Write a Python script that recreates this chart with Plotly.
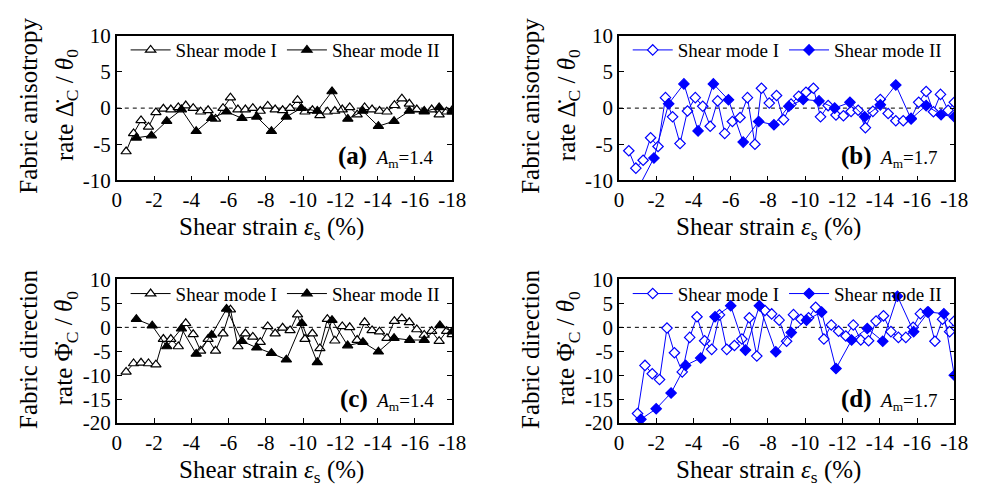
import plotly.graph_objects as go

FONT = "Liberation Serif"
BLACK = "#000000"
BLUE = "#0000FF"
W, H = 983, 497

# ---- data: shear strain magnitude (%) and normalised fabric rates ----
# (a) fabric anisotropy rate, Am = 1.4
strain_a_I = [0.5, 0.9, 1.3, 1.7, 2.1, 2.5, 2.9, 3.3, 3.7, 4.1, 4.5, 4.9, 5.3, 5.7, 6.1,
              6.5, 6.9, 7.3, 7.7, 8.1, 8.5, 8.9, 9.3, 9.7, 10.1, 10.5, 10.9, 11.3, 11.7,
              12.1, 12.5, 12.9, 13.3, 13.7, 14.1, 14.5, 14.9, 15.3, 15.7, 16.1, 16.5,
              16.9, 17.3, 17.7, 18.0]
rate_a_I = [-6.0, -3.5, -1.7, -2.6, -0.6, -0.1, -0.2, 0.1, 0.35, 0.0, -0.5, -0.3, -1.5,
            0.0, 1.45, -0.2, -0.2, 0.0, -0.4, 0.3, -0.2, -0.3, 0.0, 1.1, -0.5, -0.3,
            -1.0, -0.5, -0.4, -0.2, 0.1, -0.9, 0.1, -0.2, -0.4, -0.5, 0.4, 1.3, 0.6,
            -0.2, -0.4, -0.2, -0.9, -0.5, -0.3]
strain_a_II = [1.05, 1.86, 2.68, 3.47, 4.26, 5.09, 5.89, 6.72, 7.51, 8.3, 9.1, 9.9,
               10.76, 11.55, 12.4, 13.2, 14.04, 14.88, 15.7, 16.5, 17.3, 18.0]
rate_a_II = [-4.1, -3.8, -1.8, -0.2, -3.2, -1.4, -0.5, -1.4, -1.2, -3.2, -1.2, 0.0,
             -0.4, 2.3, -1.5, -0.4, -2.5, -1.8, -0.4, -0.5, 0.1, -0.5]

# (b) fabric anisotropy rate, Am = 1.7
strain_b_I = [0.53, 0.91, 1.3, 1.7, 2.1, 2.5, 2.88, 3.28, 3.68, 4.1, 4.5, 4.9, 5.3,
              5.68, 6.09, 6.5, 6.9, 7.3, 7.65, 8.07, 8.46, 8.84, 9.24, 9.65, 10.04,
              10.44, 10.82, 11.23, 11.65, 12.05, 12.46, 12.84, 13.23, 13.63, 14.03,
              14.45, 14.86, 15.26, 15.68, 16.09, 16.49, 16.88, 17.26, 17.67, 18.0]
rate_b_I = [-5.9, -8.3, -7.2, -4.1, -5.3, 1.45, -1.2, -4.9, -0.4, 1.45, 0.25, -2.5,
            1.0, -3.5, -1.85, -1.3, 1.45, -5.0, 2.75, 0.7, 1.75, -1.6, 0.55, 1.65,
            2.2, 2.75, -1.2, 0.35, -0.95, -1.05, -0.45, -0.3, -2.7, -0.45, 1.2,
            -0.75, -1.75, -1.75, -1.4, 0.8, 2.3, -0.5, 1.9, -0.3, 0.8]
strain_b_II = [1.05, 1.88, 2.67, 3.49, 4.25, 5.07, 5.88, 6.67, 7.5, 8.32, 9.12, 9.89,
               10.74, 11.58, 12.4, 13.19, 14.03, 14.86, 15.68, 16.49, 17.29, 18.0]
rate_b_II = [-11.0, -6.9, 0.6, 3.35, -3.15, 3.35, 1.15, -4.7, -1.85, -2.3, 0.25, 1.2,
             1.0, 0.0, 0.8, -1.2, 0.45, 3.2, -1.5, 0.35, -0.9, -1.2]

# (c) fabric direction rate, Am = 1.4
strain_c_I = [0.5, 0.9, 1.3, 1.7, 2.1, 2.5, 2.9, 3.3, 3.7, 4.1, 4.5, 4.9, 5.3, 5.7, 6.1,
              6.5, 6.9, 7.3, 7.7, 8.1, 8.5, 8.9, 9.3, 9.7, 10.1, 10.5, 10.9, 11.3, 11.7,
              12.1, 12.5, 12.9, 13.3, 13.7, 14.1, 14.5, 14.9, 15.3, 15.7, 16.1, 16.5,
              16.9, 17.3, 17.7, 18.0]
rate_c_I = [-9.3, -7.55, -7.4, -7.55, -7.8, -2.45, -2.45, -4.0, 0.85, -1.45, -4.9,
            -2.45, -4.9, -1.3, 3.7, -4.0, -1.3, -2.0, -3.1, 0.2, -1.3, -0.1, -0.65,
            2.65, -2.45, -1.3, -4.4, 1.7, -2.8, 0.2, 0.0, -2.65, 1.05, -0.65, -0.9,
            -2.25, 1.3, 1.85, 1.05, -0.45, -1.6, -0.8, -2.9, -0.8, -1.45]
strain_c_II = [1.05, 1.9, 2.68, 3.47, 4.26, 5.09, 5.89, 6.72, 7.51, 8.3, 9.1, 9.93,
               10.76, 11.55, 12.39, 13.21, 14.04, 14.88, 15.72, 16.5, 17.34, 18.0]
rate_c_II = [1.7, 0.35, -4.0, -0.25, -5.55, -1.6, 3.85, -2.9, -4.25, -5.4, -6.75, 0.85,
             -7.3, 1.5, -3.8, -3.1, -5.1, -2.25, -2.65, -2.65, 0.4, -0.9]

# (d) fabric direction rate, Am = 1.7
strain_d_I = [1.0, 1.4, 1.79, 2.18, 2.58, 2.98, 3.4, 3.8, 4.19, 4.6, 4.98, 5.4, 5.79,
              6.2, 6.6, 7.0, 7.4, 7.84, 8.2, 8.6, 9.0, 9.37, 9.77, 10.18, 10.56, 11.0,
              11.4, 11.79, 12.18, 12.58, 12.98, 13.4, 13.8, 14.2, 14.6, 15.0, 15.4,
              15.79, 16.18, 16.56, 16.96, 17.37, 17.75, 18.0]
rate_d_I = [-18.0, -7.95, -9.7, -10.9, -0.15, -5.3, -9.3, -2.1, 2.2, -2.8, -4.6, 2.6,
            -4.6, -3.8, -2.45, 2.0, -6.0, 3.5, 2.8, 1.5, -2.9, 2.65, 1.7, 2.0, 4.2,
            -2.45, 0.5, -0.8, -1.8, 0.5, -2.65, -2.8, 1.3, 2.4, -0.9, -2.1, -2.1, 0.0,
            2.85, 3.2, -2.9, 1.7, -0.9, 1.3]
strain_d_II = [1.18, 2.0, 2.8, 3.58, 4.39, 5.16, 6.0, 6.79, 7.54, 8.42, 9.25, 10.07,
               10.88, 11.65, 12.49, 13.33, 14.16, 14.95, 15.82, 16.61, 17.44, 18.0]
rate_d_II = [-19.2, -17.0, -13.7, -7.95, -6.4, 2.2, 4.5, -4.75, 4.5, -5.1, -1.1, 1.5,
             3.2, -8.6, -2.65, -0.25, -2.9, 6.5, -0.9, 3.2, 2.85, -10.0]

# ---- tick labels ----
x_tickvals = [0, -2, -4, -6, -8, -10, -12, -14, -16, -18]
x_ticktext = ["0", "-2", "-4", "-6", "-8", "-10", "-12", "-14", "-16", "-18"]
y_top_tickvals = [-10, -5, 0, 5, 10]
y_top_ticktext = ["-10", "-5", "0", "5", "10"]
y_bot_tickvals = [-20, -15, -10, -5, 0, 5, 10]
y_bot_ticktext = ["-20", "-15", "-10", "-5", "0", "5", "10"]

series_names = ["Shear mode I", "Shear mode II"]
panel_labels = ["(a)", "(b)", "(c)", "(d)"]
panel_am = ["1.4", "1.7", "1.4", "1.7"]


def px(x):
    return x / W


def py(y):
    return 1 - y / H


# plot-area boxes in pixels: (left, right, top, bottom)
boxes = [(114, 456, 25, 177), (626, 968, 25, 177),
         (114, 456, 281, 432), (626, 968, 281, 432)]
# horizontal centre of each x-axis title, relative to the plot's left edge
xtitle_offset = [158, 153, 158, 153]

panels = [
    dict(data=[(strain_a_I, rate_a_I), (strain_a_II, rate_a_II)], color=BLACK,
         symbols=("triangle-up", "triangle-up"), size=9, yr=[-10, 10],
         tv=y_top_tickvals, tt=y_top_ticktext),
    dict(data=[(strain_b_I, rate_b_I), (strain_b_II, rate_b_II)], color=BLUE,
         symbols=("diamond", "diamond"), size=8, yr=[-10, 10],
         tv=y_top_tickvals, tt=y_top_ticktext),
    dict(data=[(strain_c_I, rate_c_I), (strain_c_II, rate_c_II)], color=BLACK,
         symbols=("triangle-up", "triangle-up"), size=9, yr=[-20, 10],
         tv=y_bot_tickvals, tt=y_bot_ticktext),
    dict(data=[(strain_d_I, rate_d_I), (strain_d_II, rate_d_II)], color=BLUE,
         symbols=("diamond", "diamond"), size=8, yr=[-20, 10],
         tv=y_bot_tickvals, tt=y_bot_ticktext),
]

fig = go.Figure()
layout = dict(
    width=W, height=H, margin=dict(l=0, r=0, t=0, b=0),
    paper_bgcolor="white", plot_bgcolor="white",
    font=dict(family=FONT, size=20, color=BLACK),
    showlegend=True,
)
shapes, annotations = [], []

for i, (p, box) in enumerate(zip(panels, boxes)):
    n = "" if i == 0 else str(i + 1)
    xa, ya = "x" + n, "y" + n
    leg = "legend" + n
    left, right, top, bottom = box
    for k, (strain, rate) in enumerate(p["data"]):
        filled = k == 1
        fig.add_trace(go.Scatter(
            x=[-s for s in strain], y=rate, mode="lines+markers",
            name=series_names[k], legend=leg, xaxis=xa, yaxis=ya,
            line=dict(color=p["color"], width=1),
            marker=dict(symbol=p["symbols"][k], size=p["size"],
                        color=p["color"] if filled else "white",
                        line=dict(color=p["color"], width=1.2)),
        ))
    layout["xaxis" + n] = dict(
        domain=[px(left), px(right)], anchor=ya, range=[0, -18],
        tickvals=x_tickvals, ticktext=x_ticktext, ticks="inside", ticklen=5,
        tickwidth=1, tickcolor=BLACK, showline=True, linecolor=BLACK, linewidth=1.5,
        mirror=True, showgrid=False, zeroline=False,
        tickfont=dict(family=FONT, size=21, color=BLACK),
    )
    layout["yaxis" + n] = dict(
        domain=[py(bottom), py(top)], anchor=xa, range=p["yr"],
        tickvals=p["tv"], ticktext=p["tt"], ticks="inside", ticklen=5,
        tickwidth=1, tickcolor=BLACK, showline=True, linecolor=BLACK, linewidth=1.5,
        mirror="ticks", showgrid=False, zeroline=False,
        tickfont=dict(family=FONT, size=21, color=BLACK),
    )
    layout[leg] = dict(
        orientation="h", x=px(left + 9), xanchor="left", y=py(top + 15),
        yanchor="middle", bgcolor="rgba(0,0,0,0)", borderwidth=0,
        font=dict(family=FONT, size=19, color=BLACK), itemwidth=40,
        tracegroupgap=0,
    )
    # dashed zero reference
    shapes.append(dict(type="line", xref=xa + " domain", yref=ya, x0=0, x1=1,
                       y0=0, y1=0, layer="below",
                       line=dict(color=BLACK, width=1, dash="4px,4px")))
    # panel tag
    annotations.append(dict(
        xref="paper", yref="paper", x=px(right - 16), y=py(bottom - 25),
        xanchor="right", yanchor="middle", showarrow=False,
        text=("<b><span style='font-size:25px'>%s</span></b>  "
              "<i>A</i><sub>m</sub>=%s") % (panel_labels[i], panel_am[i]),
        font=dict(family=FONT, size=19, color=BLACK),
    ))
    # x-axis title
    annotations.append(dict(
        xref="paper", yref="paper", x=px(left + xtitle_offset[i]), y=py(bottom + 51),
        xanchor="center", yanchor="middle", showarrow=False,
        text="Shear strain <i>ε</i><sub>s</sub> (%)",
        font=dict(family=FONT, size=25, color=BLACK),
    ))
    # y-axis title, two lines
    top_word = "Fabric anisotropy" if i < 2 else "Fabric direction"
    sym = "Δ̇" if i < 2 else "Φ̇"
    ymid = (top + bottom) / 2
    annotations.append(dict(
        xref="paper", yref="paper", x=px(left - 90), y=py(ymid - 2),
        xanchor="center", yanchor="middle", showarrow=False, textangle=-90,
        text=top_word, font=dict(family=FONT, size=25, color=BLACK),
    ))
    annotations.append(dict(
        xref="paper", yref="paper", x=px(left - 52), y=py(ymid - 3),
        xanchor="center", yanchor="middle", showarrow=False, textangle=-90,
        text="rate %s<sub>C</sub> / <i>θ</i><sub>0</sub>" % sym,
        font=dict(family=FONT, size=25, color=BLACK),
    ))

layout["shapes"] = shapes
layout["annotations"] = annotations
fig.update_layout(**layout)
fig.write_html("out.html")
